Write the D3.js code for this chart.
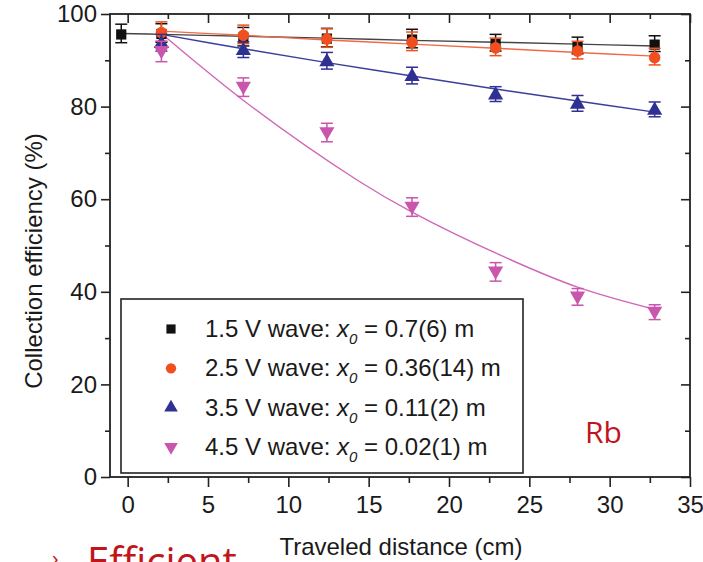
<!DOCTYPE html>
<html>
<head>
<meta charset="utf-8">
<script src="https://cdn.jsdelivr.net/npm/d3@7"></script>
<style>
  body { margin: 0; background: #fff; }
  svg { display: block; }
  text { font-family: "Liberation Sans", Arial, sans-serif; fill: #1a1a1a; }
</style>
</head>
<body>
<div id="app"></div>
<script>
// values
const distances = [2.1, 7.2, 12.4, 17.7, 22.9, 28.0, 32.8];
const blackDistances = [-0.4, 2.1, 7.2, 12.4, 17.7, 22.9, 28.0, 32.8];

const black = [95.8, 95.9, 95.1, 94.9, 94.7, 93.8, 93.2, 93.6];
const blackErr = [2.0, 2.0, 2.0, 2.0, 2.0, 1.8, 1.8, 1.7];
const orange = [96.2, 95.6, 94.8, 94.1, 92.9, 92.2, 90.8];
const orangeErr = [2.1, 2.0, 2.0, 2.0, 1.9, 1.9, 1.8];
const blue = [93.8, 92.3, 89.9, 86.7, 82.7, 80.7, 79.4];
const blueErr = [1.8, 1.7, 1.8, 1.8, 1.6, 1.7, 1.6];
const pink = [91.9, 84.2, 74.4, 58.3, 44.3, 38.9, 35.6];
const pinkErr = [2.2, 2.0, 2.0, 2.0, 2.0, 1.8, 1.6];

// fitted curves, also
const blackFitX = [-0.4, 2.1, 7.2, 12.4, 17.7, 22.9, 28.0, 32.8];
const blackFitY = [95.8, 95.6, 95.2, 94.8, 94.3, 93.9, 93.5, 93.1];
const orangeFitX = [2.1, 7.2, 12.4, 17.7, 22.9, 28.0, 32.8];
const orangeFitY = [96.3, 95.4, 94.4, 93.5, 92.6, 91.7, 90.9];
const blueFitX = [2.1, 7.2, 12.4, 17.7, 22.9, 28.0, 32.8];
const blueFitY = [95.6, 92.5, 89.5, 86.6, 83.8, 81.2, 78.8];
const pinkFitX = [2.1, 7.6, 14.3, 17.7, 23.2, 28.0, 32.8];
const pinkFitY = [95.8, 80.3, 64.1, 57.2, 47.9, 41.0, 36.2];

const legendLabels = [
  ["1.5 V wave: ", " = 0.7(6) m"],
  ["2.5 V wave: ", " = 0.36(14) m"],
  ["3.5 V wave: ", " = 0.11(2) m"],
  ["4.5 V wave: ", " = 0.02(1) m"]
];

const xMajor = [0, 5, 10, 15, 20, 25, 30, 35];
const xMinor = [2.5, 7.5, 12.5, 17.5, 22.5, 27.5, 32.5];
const yMajor = [0, 20, 40, 60, 80, 100];
const yMinor = [10, 30, 50, 70, 90];

const W = 703, H = 562;
const svg = d3.select("#app").append("svg")
    .attr("width", W)
    .attr("height", H);

const x = d3.scaleLinear().domain([-1.1, 35]).range([110, 690]);
const y = d3.scaleLinear().domain([0, 100]).range([477, 14]);

const series = [
  {xs: blackDistances, ys: black, err: blackErr, fx: blackFitX, fy: blackFitY,
   color: "#111111", line: "#444444", symbol: d3.symbolSquare, size: 105, rot: 0},
  {xs: distances, ys: orange, err: orangeErr, fx: orangeFitX, fy: orangeFitY,
   color: "#f0501f", line: "#f06a48", symbol: d3.symbolCircle, size: 105, rot: 0},
  {xs: distances, ys: blue, err: blueErr, fx: blueFitX, fy: blueFitY,
   color: "#2e3192", line: "#3a3f9c", symbol: d3.symbolTriangle, size: 100, rot: 0},
  {xs: distances, ys: pink, err: pinkErr, fx: pinkFitX, fy: pinkFitY,
   color: "#c955ad", line: "#d068b8", symbol: d3.symbolTriangle, size: 100, rot: 180}
];

// axes
const axisColor = "#222";
function styleAxis(g) {
  g.select(".domain").remove();
  g.selectAll("line").attr("stroke", axisColor).attr("stroke-width", 1.6);
  g.selectAll("text").style("font-size", "24px").attr("fill", "#1a1a1a");
}

svg.append("g").attr("transform", "translate(0,477)")
    .call(d3.axisBottom(x).tickValues(xMajor).tickSize(10).tickPadding(9).tickFormat(d3.format("d")))
    .call(styleAxis);
svg.append("g").attr("transform", "translate(0,477)")
    .call(d3.axisBottom(x).tickValues(xMinor).tickSize(6).tickFormat(""))
    .call(styleAxis);
svg.append("g").attr("transform", "translate(0,14)")
    .call(d3.axisTop(x).tickValues(xMajor).tickSize(-9).tickFormat(""))
    .call(styleAxis);
svg.append("g").attr("transform", "translate(0,14)")
    .call(d3.axisTop(x).tickValues(xMinor).tickSize(-5).tickFormat(""))
    .call(styleAxis);

svg.append("g").attr("transform", "translate(110,0)")
    .call(d3.axisLeft(y).tickValues(yMajor).tickSize(9).tickPadding(4).tickFormat(d3.format("d")))
    .call(styleAxis);
svg.append("g").attr("transform", "translate(110,0)")
    .call(d3.axisLeft(y).tickValues(yMinor).tickSize(5).tickFormat(""))
    .call(styleAxis);
svg.append("g").attr("transform", "translate(690,0)")
    .call(d3.axisRight(y).tickValues(yMajor).tickSize(-9).tickFormat(""))
    .call(styleAxis);
svg.append("g").attr("transform", "translate(690,0)")
    .call(d3.axisRight(y).tickValues(yMinor).tickSize(-5).tickFormat(""))
    .call(styleAxis);

// frame
svg.append("rect")
    .attr("x", 110).attr("y", 14)
    .attr("width", 580).attr("height", 463)
    .attr("fill", "none").attr("stroke", axisColor).attr("stroke-width", 1.8);

// fit lines
const line = d3.line().x(d => x(d[0])).y(d => y(d[1])).curve(d3.curveCatmullRom);
series.forEach(s => {
  svg.append("path")
      .datum(s.fx.map((v, i) => [v, s.fy[i]]))
      .attr("fill", "none")
      .attr("stroke", s.line)
      .attr("stroke-width", 1.4)
      .attr("d", line);
});

// error bars and markers
series.forEach(s => {
  const g = svg.append("g");
  const pts = s.xs.map((v, i) => ({x: v, y: s.ys[i], e: s.err[i]}));
  const eb = g.selectAll(".eb").data(pts).enter().append("g")
      .attr("stroke", s.color).attr("stroke-width", 1.5);
  eb.append("line")
      .attr("x1", d => x(d.x)).attr("x2", d => x(d.x))
      .attr("y1", d => y(d.y + d.e)).attr("y2", d => y(d.y - d.e));
  eb.append("line")
      .attr("x1", d => x(d.x) - 6).attr("x2", d => x(d.x) + 6)
      .attr("y1", d => y(d.y + d.e)).attr("y2", d => y(d.y + d.e));
  eb.append("line")
      .attr("x1", d => x(d.x) - 6).attr("x2", d => x(d.x) + 6)
      .attr("y1", d => y(d.y - d.e)).attr("y2", d => y(d.y - d.e));
  g.selectAll(".mk").data(pts).enter().append("path")
      .attr("d", d3.symbol().type(s.symbol).size(s.size))
      .attr("transform", d => `translate(${x(d.x)},${y(d.y) + (s.rot ? -1 : 1)}) rotate(${s.rot})`)
      .attr("fill", s.color);
});

// legend
svg.append("rect")
    .attr("x", 121).attr("y", 299)
    .attr("width", 402).attr("height", 174)
    .attr("fill", "#fff").attr("stroke", axisColor).attr("stroke-width", 1.6);

legendLabels.forEach((lab, i) => {
  const cy = 329 + i * 39.3;
  const s = series[i];
  svg.append("path")
      .attr("d", d3.symbol().type(s.symbol).size(s.size * 0.8))
      .attr("transform", `translate(171,${cy}) rotate(${s.rot})`)
      .attr("fill", s.color);
  const t = svg.append("text")
      .attr("x", 205).attr("y", cy + 8)
      .style("font-size", "24px");
  t.append("tspan").text(lab[0]);
  t.append("tspan").style("font-style", "italic").text("x");
  t.append("tspan").style("font-style", "italic").style("font-size", "15px")
      .attr("dy", 7).text("0");
  t.append("tspan").attr("dy", -7).text(lab[1]);
});

// axis titles
svg.append("text")
    .attr("x", 401).attr("y", 555)
    .attr("text-anchor", "middle")
    .style("font-size", "24px")
    .text("Traveled distance (cm)");
svg.append("text")
    .attr("transform", "translate(42,261) rotate(-90)")
    .attr("text-anchor", "middle")
    .style("font-size", "24px")
    .text("Collection efficiency (%)");

// slide annotations
svg.append("text")
    .attr("x", 585).attr("y", 443)
    .style("font-family", "'Open Sans', 'Noto Sans', sans-serif")
    .style("font-size", "30px")
    .style("fill", "#c0161b")
    .text("Rb");
svg.append("text")
    .attr("x", 52).attr("y", 566)
    .style("font-family", "'Open Sans', 'Noto Sans', sans-serif")
    .style("font-size", "22px")
    .style("fill", "#c0161b")
    .text("›");
svg.append("text")
    .attr("x", 87).attr("y", 576)
    .style("font-family", "'Open Sans', 'Noto Sans', sans-serif")
    .style("font-size", "40px")
    .style("fill", "#c0161b")
    .text("Efficient");
</script>
</body>
</html>
